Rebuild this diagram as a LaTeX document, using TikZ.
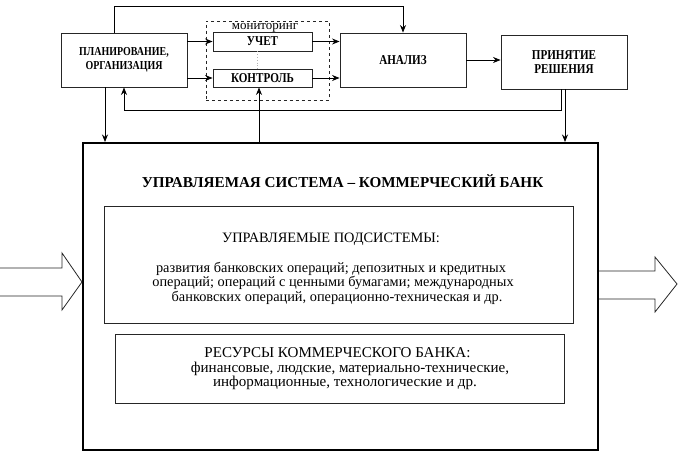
\documentclass[tikz,border=0pt]{standalone}
\usepackage{fontspec}
\setmainfont{Liberation Serif}
\newfontfamily\condserif[FakeStretch=0.82]{Liberation Serif}
\usetikzlibrary{arrows.meta}
\begin{document}
\begin{tikzpicture}[x=1bp,y=-1bp,
  box/.style={draw=black!85, line width=0.9bp, inner sep=0pt, align=center,
    font=\condserif\fontsize{13.6}{13.5}\selectfont\bfseries},
  planbox/.style={box, font=\condserif\fontsize{12.2}{13.5}\selectfont\bfseries},
  arr/.style={-{Stealth[length=7.5bp,width=6bp]}, line width=0.8bp},
  thin/.style={draw=black!85, line width=0.9bp, inner sep=0pt},
  txa/.style={font=\fontsize{14.4}{15}\selectfont, inner sep=0pt, anchor=base},
  txb/.style={font=\fontsize{15.1}{15}\selectfont, inner sep=0pt, anchor=base},
  hollow/.style={line width=0.8bp, draw=black!85}]
\useasboundingbox (0,0) rectangle (680,453);
% top row
\node[planbox, minimum width=126bp, minimum height=54bp] (plan) at (124,60) {ПЛАНИРОВАНИЕ,\\ОРГАНИЗАЦИЯ};
\node[thin, dashed, minimum width=123bp, minimum height=79bp] (mon) at (267.5,60.5) {};
\node[font=\fontsize{13}{13}\selectfont, inner sep=0pt, anchor=base] (monlab) at (265,29.5) {мониторинг};
\node[box, minimum width=99bp, minimum height=19bp] (uchet) at (262.5,41.5) {УЧЕТ};
\node[box, minimum width=99bp, minimum height=18bp] (kontrol) at (262.5,78) {КОНТРОЛЬ};
\node[box, minimum width=126bp, minimum height=54bp] (analiz) at (403,60) {АНАЛИЗ};
\node[box, minimum width=126bp, minimum height=54bp] (prin) at (564,62) {ПРИНЯТИЕ\\РЕШЕНИЯ};
% main system
\node[draw=black, line width=2bp, minimum width=515bp, minimum height=307bp, inner sep=0pt] (main) at (340.5,296.5) {};
\node[font=\fontsize{15.2}{15}\selectfont\bfseries, inner sep=0pt, anchor=base] (title) at (342.5,188) {УПРАВЛЯЕМАЯ СИСТЕМА – КОММЕРЧЕСКИЙ БАНК};
\node[thin, minimum width=469bp, minimum height=117bp] (sub1) at (338.5,264.5) {};
\node[txa] (sub1h) at (331,243) {УПРАВЛЯЕМЫЕ ПОДСИСТЕМЫ:};
\node[txa] (sub1a) at (331,272.5) {развития банковских операций; депозитных и кредитных};
\node[txa] (sub1b) at (333,287) {операций; операций с ценными бумагами; международных};
\node[txa] (sub1c) at (337,301.5) {банковских операций, операционно-техническая и др.};
\node[thin, minimum width=449bp, minimum height=69bp] (sub2) at (339.5,368.5) {};
\node[txb] (sub2h) at (337.5,357) {РЕСУРСЫ КОММЕРЧЕСКОГО БАНКА:};
\node[txb] (sub2a) at (350,372) {финансовые, людские, материально-технические,};
\node[txb] (sub2b) at (345,386.5) {информационные, технологические и др.};
% arrows
\draw[arr] (plan.east |- uchet) -- (uchet.west);
\draw[arr] (plan.east |- kontrol) -- (kontrol.west);
\draw[arr] (uchet.east) -- (uchet.east -| analiz.west);
\draw[arr] (kontrol.east) -- (kontrol.east -| analiz.west);
\draw[arr] (analiz.east) -- (analiz.east -| prin.west);
\draw[arr] ([xshift=-10bp]plan.north) -- ++(0,-26) -| (analiz.north);
\draw[arr] ([xshift=-3bp]prin.south) -- ++(0,21) -| (plan.south);
\draw[arr] ([xshift=1bp]prin.south) -- ([xshift=1bp]prin.south |- main.north);
\draw[arr] ([xshift=-19bp]plan.south) -- ([xshift=-19bp]plan.south |- main.north);
\draw[arr] ([xshift=-3.5bp]kontrol.south |- main.north) -- ([xshift=-3.5bp]kontrol.south);
\draw[black!30, dotted, line width=0.8bp] ([xshift=-5.5bp]uchet.south) -- ([xshift=-5.5bp]kontrol.north);
% hollow arrows
\draw[hollow] (0,268) -- (62,268) -- (62,253) -- (main.west |- 0,282) -- (62,310) -- (62,296) -- (0,296);
\draw[hollow] (main.east |- 0,271) -- (655,271) -- (655,257) -- (677,284) -- (655,312) -- (655,299) -- (main.east |- 0,299);
\end{tikzpicture}
\end{document}
